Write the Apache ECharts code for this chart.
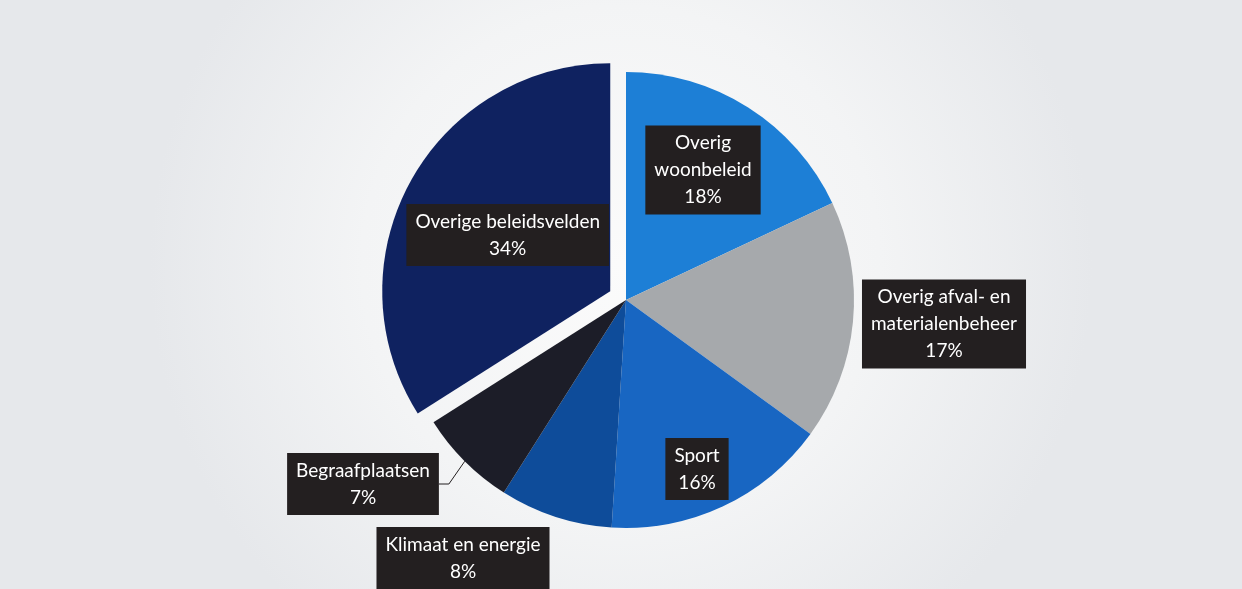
<!DOCTYPE html>
<html>
<head>
<meta charset="utf-8">
<script src="https://cdn.jsdelivr.net/npm/echarts@6/dist/echarts.min.js"></script>
<style>
  html, body { margin: 0; padding: 0; }
  #pieChart { width: 1242px; height: 589px; }
</style>
</head>
<body>
<div id="pieChart"></div>
<script>
// data (percent of total)
var categories = ['Overig\nwoonbeleid', 'Overig afval- en\nmaterialenbeheer', 'Sport', 'Klimaat en energie', 'Begraafplaatsen', 'Overige beleidsvelden'];
var shares = [18, 17, 16, 8, 7, 34];
var sliceColors = ['#1d7fd6', '#a6a9ac', '#1866c2', '#0e4c9a', '#1c1d28', '#0f2260'];
var pulledOut = [false, false, false, false, false, true];

// where Excel put the label boxes (centres, px)
var labelSpots = [[703, 170], [944, 324], [697, 469], [463, 558], [363, 484], [505, 265]];

var dom = document.getElementById('pieChart');
var myChart = echarts.init(dom);

var pieData = categories.map(function (name, i) {
    return {
        name: name,
        value: shares[i],
        selected: pulledOut[i],
        itemStyle: { color: sliceColors[i] },
        label: { position: i === 4 ? 'outside' : 'inside' },
        labelLine: { show: i === 4 }
    };
});

var option = {
    backgroundColor: new echarts.graphic.RadialGradient(0.5, 0.45, 0.8, [
        { offset: 0, color: '#fbfbfb' },
        { offset: 0.55, color: '#f3f4f5' },
        { offset: 1, color: '#e6e8eb' }
    ]),
    animation: false,
    series: [
        {
            type: 'pie',
            center: [626, 300],
            radius: 228,
            startAngle: 90,
            clockwise: true,
            selectedMode: 'multiple',
            selectedOffset: 18,
            emphasis: { disabled: true },
            data: pieData,
            label: {
                formatter: '{b}\n{d}%',
                color: '#ffffff',
                fontFamily: 'Lato',
                fontSize: 19,
                lineHeight: 27,
                align: 'center',
                backgroundColor: '#231f20',
                padding: [4, 9]
            },
            labelLine: {
                length: 8,
                length2: 10,
                lineStyle: { color: '#231f20', width: 1 }
            },
            labelLayout: function (params) {
                var p = labelSpots[params.dataIndex];
                return { x: p[0], y: p[1], align: 'center', verticalAlign: 'middle' };
            }
        }
    ]
};

myChart.setOption(option, true);
</script>
</body>
</html>
